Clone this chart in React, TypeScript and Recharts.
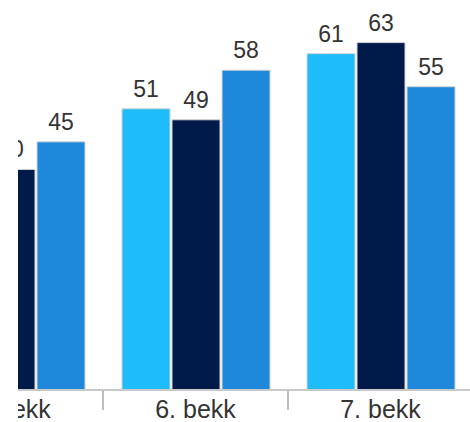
import React from 'react'
import { Bar, BarChart, LabelList, XAxis, YAxis } from 'recharts'

const categories = ['5. bekk', '6. bekk', '7. bekk']
const seriesA = [41, 51, 61]
const seriesB = [40, 49, 63]
const seriesC = [45, 58, 55]

const data = categories.map((name, i) => ({
  name,
  a: seriesA[i],
  b: seriesB[i],
  c: seriesC[i],
}))

const CHART_W = 555
const BAND = CHART_W / categories.length
const FONT = '"Liberation Sans", Arial, sans-serif'

function CategoryTick(props: any) {
  const { x, y, payload } = props
  const left = x - BAND / 2
  return (
    <g>
      <line x1={left} x2={left} y1={390} y2={410} stroke="#b7bec8" strokeWidth={2} />
      <text x={x} y={y} dy={8} textAnchor="middle" fontSize={25} fill="#333" fontFamily={FONT}>
        {payload.value}
      </text>
    </g>
  )
}

const labelStyle = { fontSize: 23, fill: '#333', fontFamily: FONT }

export default function App() {
  return (
    <div style={{ position: 'absolute', left: 18, top: 0, width: 452, height: 422, overflow: 'hidden', background: '#fff' }}>
      <div style={{ position: 'absolute', left: -100, top: 0 }}>
        <BarChart
          width={CHART_W}
          height={422}
          data={data}
          margin={{ top: 4, right: 0, bottom: 0, left: 0 }}
          barCategoryGap={19}
          barGap={2}
        >
          <XAxis
            dataKey="name"
            height={32}
            axisLine={{ stroke: '#c9c9c9', strokeWidth: 2 }}
            tickLine={false}
            tickSize={20}
            tickMargin={0}
            tick={<CategoryTick />}
            interval={0}
          />
          <YAxis hide domain={[0, 70]} />
          <Bar dataKey="a" fill="#1fbcfa" stroke="#d4d4d4" strokeWidth={1} isAnimationActive={false}>
            <LabelList dataKey="a" position="top" offset={12} style={labelStyle} />
          </Bar>
          <Bar dataKey="b" fill="#001a4a" stroke="#d4d4d4" strokeWidth={1} isAnimationActive={false}>
            <LabelList dataKey="b" position="top" offset={12} style={labelStyle} />
          </Bar>
          <Bar dataKey="c" fill="#1e88da" stroke="#d4d4d4" strokeWidth={1} isAnimationActive={false}>
            <LabelList dataKey="c" position="top" offset={12} style={labelStyle} />
          </Bar>
        </BarChart>
      </div>
    </div>
  )
}
